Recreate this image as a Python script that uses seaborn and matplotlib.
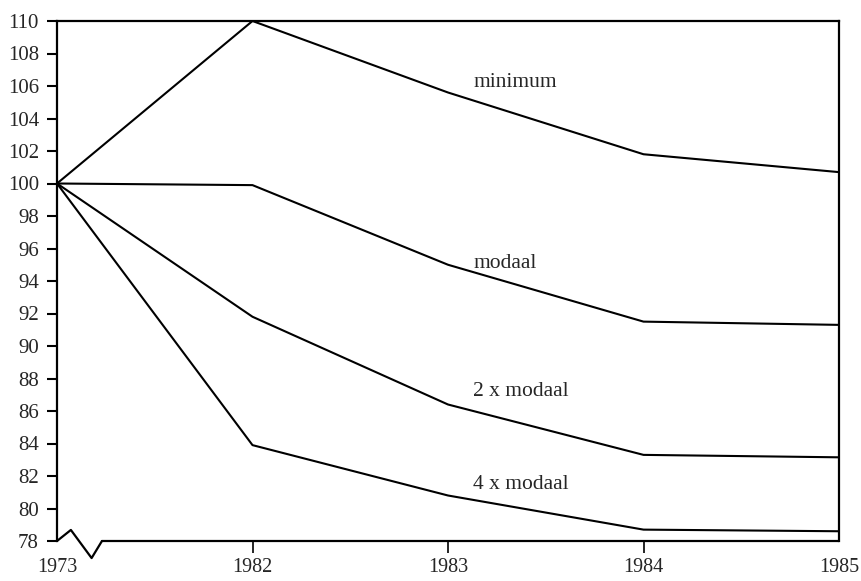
import pandas as pd
import seaborn as sns
import matplotlib.pyplot as plt

# Data (index, 1973 = 100)
years = ['1973', '1982', '1983', '1984', '1985']
minimum = [100, 110, 105.6, 101.8, 100.7]
modaal = [100, 99.9, 95.0, 91.5, 91.3]
modaal_2x = [100, 91.8, 86.4, 83.3, 83.15]
modaal_4x = [100, 83.9, 80.8, 78.7, 78.6]
series_names = ['minimum', 'modaal', '2 x modaal', '4 x modaal']
yticks = list(range(78, 111, 2))

# axis break on the x axis (zigzag near 1973)
break_x = [0, 0.071, 0.177, 0.23]
break_y = [78, 78.68, 76.95, 78]

rows = []
for name, vals in zip(series_names, [minimum, modaal, modaal_2x, modaal_4x]):
    for i, v in enumerate(vals):
        rows.append({'pos': i, 'year': years[i], 'value': v, 'series': name})
df = pd.DataFrame(rows)

sns.set_theme(style='white')
plt.rcParams['font.family'] = ['Liberation Serif', 'DejaVu Serif']

fig = plt.figure(figsize=(8.61, 5.81), dpi=100)
ax = fig.add_axes([57 / 861, 1 - 541 / 581, (839 - 57) / 861, (541 - 21) / 581])

sns.lineplot(data=df, x='pos', y='value', hue='series', palette=['black'] * 4,
             linewidth=1.5, legend=False, ax=ax)

ax.set_xlim(0, 4)
ax.set_ylim(78, 110)
ax.set_xticks(range(len(years)))
ax.set_xticklabels(years, fontsize=14.5)
ax.set_yticks(yticks)
ax.set_yticklabels([str(t) for t in yticks], fontsize=15)
ax.set_xlabel('')
ax.set_ylabel('')

for side in ['left', 'top', 'right']:
    ax.spines[side].set_color('black')
    ax.spines[side].set_linewidth(1.6)
ax.spines['bottom'].set_visible(False)

# bottom axis with the break symbol
ax.plot(break_x, break_y, color='black', lw=1.6, clip_on=False)
ax.plot([break_x[-1], 4], [78, 78], color='black', lw=1.6, clip_on=False)

ax.tick_params(axis='y', direction='out', length=7, width=1.5, color='black', pad=6, left=True)
ax.tick_params(axis='x', direction='out', length=8.5, width=1.2, color='black', pad=4, bottom=True)
xt = ax.xaxis.get_major_ticks()
xt[0].tick1line.set_visible(False)
xt[-1].tick1line.set_visible(False)

# line labels
ax.text(2.13, 106.2, 'minimum', fontsize=15.5, ha='left', va='center')
ax.text(2.13, 95.1, 'modaal', fontsize=15.5, ha='left', va='center')
ax.text(2.13, 87.2, '2 x modaal', fontsize=15.5, ha='left', va='center')
ax.text(2.13, 81.5, '4 x modaal', fontsize=15.5, ha='left', va='center')

fig.savefig('out.png', dpi=100)
